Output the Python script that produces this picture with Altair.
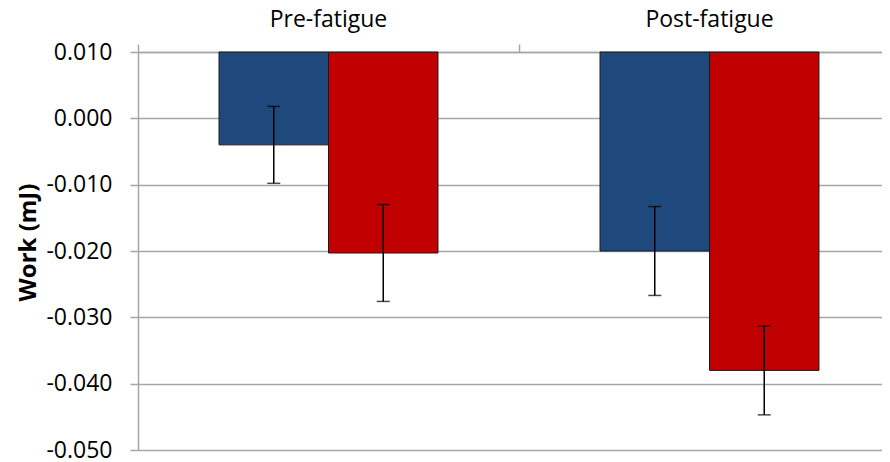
import altair as alt
import pandas as pd

categories = ["Pre-fatigue", "Post-fatigue"]
series = ["Series 1", "Series 2"]
series1_values = [-0.0040, -0.0200]
series1_errors = [0.0058, 0.0067]
series2_values = [-0.0203, -0.0380]
series2_errors = [0.0073, 0.0067]
bar_base = 0.010
y_ticks = [0.010, 0.000, -0.010, -0.020, -0.030, -0.040, -0.050]
colors = ["#1F497D", "#C00000"]

rows = []
for i, c in enumerate(categories):
    for s, vals, errs in ((series[0], series1_values, series1_errors),
                          (series[1], series2_values, series2_errors)):
        v, e = vals[i], errs[i]
        rows.append({"cat": c, "series": s, "value": v, "base": bar_base,
                     "lo": v - e, "hi": v + e})
df = pd.DataFrame(rows)

FONT = "Open Sans"
GRID = "#a6a6a6"

x_enc = alt.X("cat:N", sort=categories,
              scale=alt.Scale(range=[0, 762], paddingInner=0, paddingOuter=0),
              axis=alt.Axis(orient="top", title=None, bandPosition=0,
                            labelAngle=0, domainColor=GRID, domainWidth=1.5,
                            tickColor=GRID, tickWidth=1.5, tickSize=8,
                            labelPadding=18, labelBaseline="alphabetic",
                            labelFont=FONT, labelFontSize=23, labelColor="#000000",
                            grid=False))
xo_enc = alt.XOffset("series:N", sort=series,
                     scale=alt.Scale(paddingInner=0, paddingOuter=0.74))
y_scale = alt.Scale(domain=[-0.05, 0.01], nice=False, zero=False)

bars = alt.Chart(df).mark_bar(stroke="#1a1a1a", strokeWidth=1).encode(
    x=x_enc,
    xOffset=xo_enc,
    y=alt.Y("value:Q", scale=y_scale,
            axis=alt.Axis(values=y_ticks, title="Work (mJ)",
                          labelExpr="replace(format(datum.value, '.3f'), '\u2212', '-')",
                          domainColor=GRID, domainWidth=1.5, tickColor=GRID,
                          tickWidth=1.5, tickSize=8, labelPadding=18,
                          labelFont=FONT, labelFontSize=23, labelColor="#000000",
                          gridColor=GRID, gridWidth=1.5,
                          titleFont=FONT, titleFontSize=24, titleFontWeight="bold",
                          titleColor="#000000", titleAngle=270, titleX=-110, titleY=190,
                          titleAlign="center", titleBaseline="middle")),
    y2="base:Q",
    color=alt.Color("series:N", sort=series,
                    scale=alt.Scale(domain=series, range=colors), legend=None),
)

rules = alt.Chart(df).mark_rule(color="#000000", strokeWidth=1.5).encode(
    x=x_enc, xOffset=xo_enc,
    y=alt.Y("lo:Q", scale=y_scale), y2="hi:Q",
)
caps_lo = alt.Chart(df).mark_tick(color="#000000", thickness=1.5, size=13).encode(
    x=x_enc, xOffset=xo_enc, y=alt.Y("lo:Q", scale=y_scale),
)
caps_hi = alt.Chart(df).mark_tick(color="#000000", thickness=1.5, size=13).encode(
    x=x_enc, xOffset=xo_enc, y=alt.Y("hi:Q", scale=y_scale),
)

chart = alt.layer(bars, rules, caps_lo, caps_hi).properties(
    width=744, height=398,
    autosize=alt.AutoSizeParams(type="none"),
    padding={"left": 130, "top": 44, "right": 0, "bottom": 12},
).configure_view(stroke=None).configure(background="white")

chart.save("out.html", embed_options={"renderer": "svg", "actions": False})
